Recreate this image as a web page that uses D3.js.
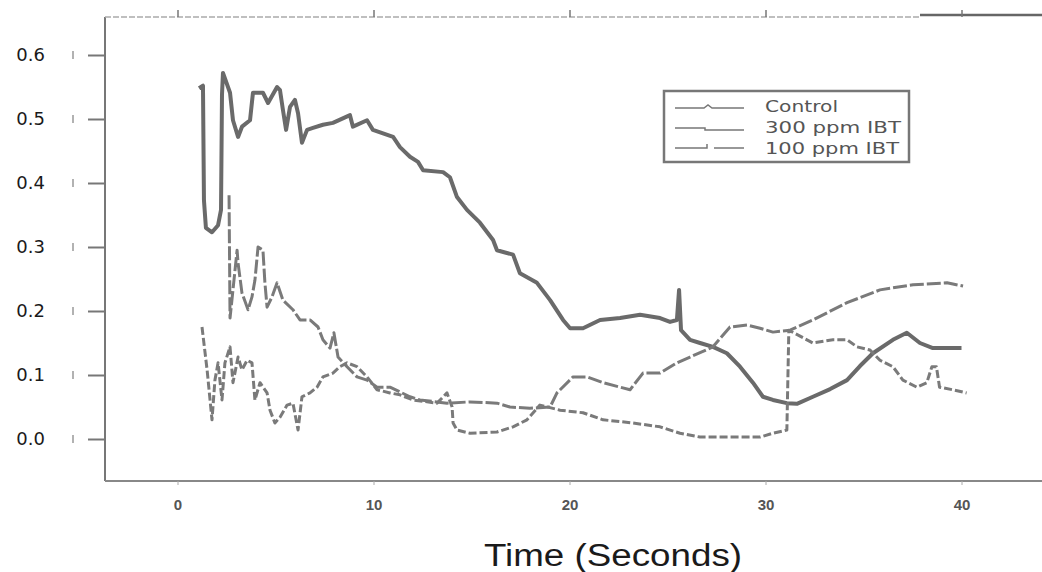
<!DOCTYPE html>
<html>
<head>
<meta charset="utf-8">
<script src="https://cdn.jsdelivr.net/npm/d3@7"></script>
<style>
  body { margin: 0; background: #fff; }
  svg { display: block; }
</style>
</head>
<body>
<svg id="chart"></svg>
<script>
// tick values
const xTicks = [0, 10, 20, 30, 40];
const yTicks = [0.0, 0.1, 0.2, 0.3, 0.4, 0.5, 0.6];
const seriesNames = ["Control", "300 ppm IBT", "100 ppm IBT"];

// [time (s), value]
const control = [
  [1.10,0.548],[1.30,0.552],[1.35,0.373],[1.45,0.330],[1.76,0.323],[2.07,0.334],[2.22,0.358],
  [2.27,0.538],[2.32,0.572],[2.68,0.541],[2.83,0.498],[3.09,0.472],[3.29,0.488],[3.70,0.498],
  [3.85,0.541],[4.36,0.541],[4.62,0.525],[5.08,0.550],[5.23,0.545],[5.38,0.514],[5.54,0.483],
  [5.74,0.519],[5.99,0.530],[6.15,0.509],[6.35,0.463],[6.61,0.483],[6.91,0.486],[7.42,0.491],
  [7.93,0.494],[8.80,0.506],[8.95,0.488],[9.67,0.498],[9.97,0.483],[11.00,0.472],[11.35,0.456],
  [11.86,0.441],[12.27,0.433],[12.53,0.420],[13.55,0.417],[13.90,0.409],[14.26,0.378],[14.77,0.358],
  [15.43,0.338],[16.10,0.311],[16.30,0.295],[17.12,0.288],[17.47,0.259],[18.34,0.244],[19.01,0.217],
  [19.67,0.186],[20.03,0.173],[20.69,0.173],[21.56,0.186],[22.58,0.189],[23.60,0.194],[24.62,0.189],
  [25.13,0.183],[25.48,0.186],[25.59,0.233],[25.69,0.170],[26.15,0.155],[26.66,0.150],[27.32,0.144],
  [28.03,0.134],[28.70,0.113],[29.36,0.088],[29.87,0.066],[30.38,0.061],[31.09,0.056],[31.60,0.055],
  [32.42,0.066],[33.30,0.078],[34.16,0.092],[34.82,0.114],[35.48,0.134],[36.50,0.155],[37.21,0.166],
  [37.88,0.150],[38.54,0.142],[39.30,0.142],[40.00,0.142]
];
const ibt300 = [
  [2.63,0.381],[2.68,0.189],[2.83,0.233],[3.04,0.295],[3.09,0.275],[3.29,0.228],[3.60,0.202],
  [3.80,0.222],[3.95,0.248],[4.11,0.300],[4.36,0.295],[4.46,0.244],[4.57,0.206],[4.82,0.222],
  [5.08,0.244],[5.38,0.217],[5.89,0.202],[6.25,0.186],[6.76,0.186],[7.17,0.175],[7.42,0.155],
  [7.78,0.142],[7.98,0.166],[8.19,0.128],[8.65,0.113],[9.16,0.097],[9.67,0.092],[10.18,0.081],
  [10.84,0.081],[11.86,0.066],[12.37,0.061],[13.75,0.056],[14.92,0.058],[16.30,0.056],[16.96,0.050],
  [17.98,0.048],[19.01,0.050],[19.36,0.072],[20.18,0.097],[20.89,0.097],[21.71,0.088],[23.09,0.077],
  [23.75,0.103],[24.62,0.103],[25.48,0.119],[26.15,0.128],[27.32,0.144],[28.19,0.175],[29.06,0.178],
  [29.72,0.173],[30.38,0.167],[31.25,0.170],[32.42,0.186],[34.16,0.213],[35.84,0.233],[37.53,0.241],
  [39.26,0.244],[40.08,0.239]
];
const ibt100 = [
  [1.25,0.175],[1.51,0.108],[1.76,0.030],[1.91,0.092],[2.07,0.119],[2.27,0.061],[2.42,0.119],
  [2.68,0.144],[2.83,0.088],[3.09,0.128],[3.29,0.108],[3.55,0.123],[3.80,0.119],[3.95,0.061],
  [4.21,0.088],[4.57,0.072],[4.72,0.045],[4.97,0.025],[5.23,0.034],[5.59,0.053],[5.89,0.056],
  [6.15,0.014],[6.35,0.066],[6.76,0.072],[7.12,0.081],[7.42,0.097],[7.93,0.103],[8.29,0.113],
  [8.65,0.119],[9.16,0.113],[9.67,0.097],[10.18,0.077],[10.84,0.072],[11.35,0.069],[12.01,0.061],
  [13.24,0.056],[13.75,0.072],[14.01,0.050],[14.06,0.025],[14.26,0.014],[14.92,0.009],[16.30,0.011],
  [17.12,0.019],[17.83,0.030],[18.49,0.053],[19.52,0.045],[20.69,0.041],[21.71,0.030],[23.24,0.025],
  [24.62,0.019],[25.64,0.009],[26.66,0.003],[28.34,0.003],[29.72,0.003],[30.38,0.009],[31.09,0.014],
  [31.19,0.170],[32.42,0.150],[33.44,0.155],[34.16,0.155],[34.67,0.144],[35.33,0.139],[35.84,0.123],
  [36.50,0.113],[37.01,0.092],[37.72,0.081],[38.23,0.088],[38.49,0.113],[38.72,0.113],[38.88,0.081],
  [39.54,0.077],[40.26,0.072]
];

document.addEventListener("DOMContentLoaded", function() {
  const W = 1042, H = 572;
  const frame = {left: 105, top: 17, right: 1042, bottom: 481};

  const svg = d3.select("#chart").attr("width", W).attr("height", H);

  const x = d3.scaleLinear().domain([0, 40]).range([177.5, 961.5]);
  const y = d3.scaleLinear().domain([0, 0.6]).range([439, 55]);

  // frame
  svg.append("line")
    .attr("x1", frame.left).attr("x2", frame.left)
    .attr("y1", frame.top).attr("y2", frame.bottom)
    .attr("stroke", "#777").attr("stroke-width", 2);
  svg.append("line")
    .attr("x1", frame.left).attr("x2", frame.right)
    .attr("y1", frame.bottom).attr("y2", frame.bottom)
    .attr("stroke", "#888").attr("stroke-width", 2);
  svg.append("line")
    .attr("x1", frame.left).attr("x2", 920)
    .attr("y1", frame.top).attr("y2", frame.top)
    .attr("stroke", "#aaa").attr("stroke-width", 1.5)
    .attr("stroke-dasharray", "6,2");
  svg.append("line")
    .attr("x1", 920).attr("x2", frame.right)
    .attr("y1", frame.top - 2).attr("y2", frame.top - 2)
    .attr("stroke", "#666").attr("stroke-width", 2.5);

  // y axis
  const yAxis = d3.axisLeft(y)
    .tickValues(yTicks)
    .tickSize(16)
    .tickPadding(43)
    .tickFormat(d3.format(".1f"));
  const gy = svg.append("g").attr("transform", `translate(${frame.left - 1},0)`).call(yAxis);
  gy.select(".domain").remove();
  gy.selectAll(".tick line").attr("stroke", "#777").attr("stroke-width", 2);
  gy.selectAll(".tick text")
    .attr("fill", "#1a1a1a")
    .style("font-family", "DejaVu Sans, sans-serif")
    .style("font-size", "18px");

  // faint marks left of the y ticks
  svg.append("g").selectAll("line")
    .data(yTicks)
    .enter().append("line")
    .attr("x1", 73).attr("x2", 73)
    .attr("y1", d => y(d) - 4).attr("y2", d => y(d) + 4)
    .attr("stroke", "#999").attr("stroke-width", 1.5);

  // x axis
  const xAxis = d3.axisBottom(x).tickValues(xTicks).tickSize(4).tickPadding(14);
  const gx = svg.append("g").attr("transform", `translate(0,${frame.bottom})`).call(xAxis);
  gx.select(".domain").remove();
  gx.selectAll(".tick line").attr("stroke", "#aaa");
  gx.selectAll(".tick text")
    .attr("fill", "#555")
    .style("font-family", "Liberation Sans, Arial, sans-serif")
    .style("font-size", "15px")
    .style("font-weight", "bold");

  const gxTop = svg.append("g").attr("transform", `translate(0,${frame.top})`)
    .call(d3.axisTop(x).tickValues(xTicks).tickSize(7).tickFormat(""));
  gxTop.select(".domain").remove();
  gxTop.selectAll(".tick line").attr("stroke", "#777").attr("stroke-width", 1.5);

  svg.append("text")
    .attr("x", 613).attr("y", 566)
    .attr("text-anchor", "middle")
    .attr("textLength", 258).attr("lengthAdjust", "spacingAndGlyphs")
    .attr("fill", "#1a1a1a")
    .style("font-family", "Liberation Sans, Arial, sans-serif")
    .style("font-size", "31px")
    .text("Time (Seconds)");

  // series
  const line = d3.line().x(d => x(d[0])).y(d => y(d[1]));
  const styles = [
    {data: control, width: 4, dash: null, color: "#6a6a6a"},
    {data: ibt300, width: 3, dash: "14,3", color: "#7a7a7a"},
    {data: ibt100, width: 3, dash: "8,3", color: "#7a7a7a"}
  ];
  svg.append("g").selectAll("path")
    .data(styles)
    .enter().append("path")
    .attr("d", d => line(d.data))
    .attr("fill", "none")
    .attr("stroke", d => d.color)
    .attr("stroke-width", d => d.width)
    .attr("stroke-dasharray", d => d.dash)
    .attr("stroke-linejoin", "round");

  // legend
  const lg = svg.append("g");
  lg.append("rect")
    .attr("x", 664).attr("y", 91).attr("width", 245).attr("height", 71)
    .attr("fill", "#fff").attr("stroke", "#777").attr("stroke-width", 2.5);
  const rowY = [106, 127, 148];
  const textLen = [73, 136, 134];
  seriesNames.forEach((name, i) => {
    const ly = rowY[i];
    if (i === 0) {
      lg.append("path").attr("d", `M675,${ly + 2}H704L708,${ly - 1}L712,${ly + 2}H744`)
        .attr("fill", "none").attr("stroke", "#777").attr("stroke-width", 1.5);
    } else if (i === 1) {
      lg.append("path").attr("d", `M675,${ly + 1}H705V${ly + 3}H744`)
        .attr("fill", "none").attr("stroke", "#777").attr("stroke-width", 1.5);
    } else {
      lg.append("path").attr("d", `M675,${ly}H707V${ly - 4}M714,${ly}H744`)
        .attr("fill", "none").attr("stroke", "#777").attr("stroke-width", 1.5);
    }
    lg.append("text")
      .attr("x", 765).attr("y", ly + 6)
      .attr("textLength", textLen[i]).attr("lengthAdjust", "spacingAndGlyphs")
      .attr("fill", "#555")
      .style("font-family", "DejaVu Sans, sans-serif")
      .style("font-size", "16px")
      .text(name);
  });
});
</script>
</body>
</html>
